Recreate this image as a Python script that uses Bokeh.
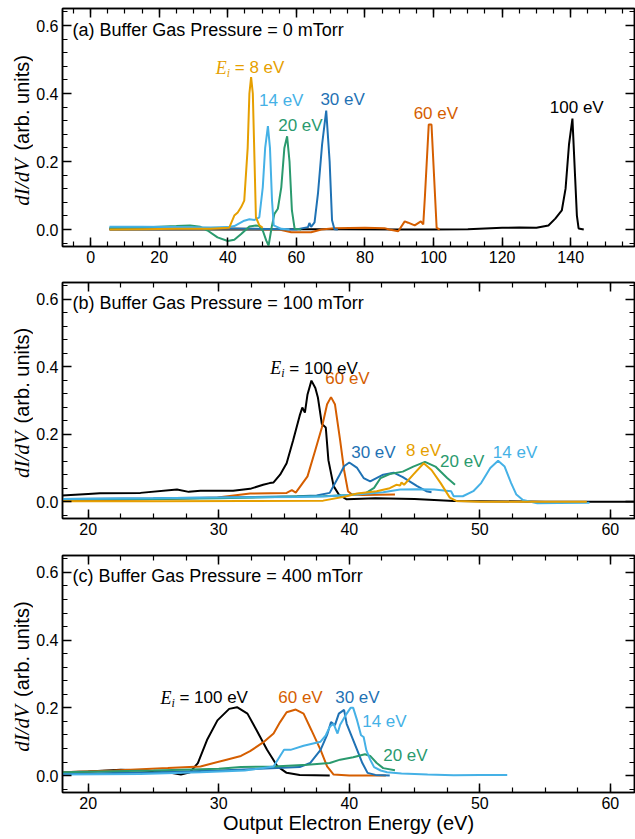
import math
from bokeh.plotting import figure
from bokeh.models import (Range1d, LinearAxis, FixedTicker, Label, ColumnDataSource,
                          PrintfTickFormatter, CustomJSTickFormatter)
from bokeh.layouts import column, row
from bokeh.embed import file_html
from bokeh.resources import INLINE
from bokeh.core.properties import value

# ---------------- colours ----------------
C100 = "#000000"
C60 = "#D55E00"
C30 = "#1F72B4"
C20 = "#2A9A6E"
C14 = "#45B1E6"
C8 = "#E69F00"

# ---------------- panel (a): 0 mTorr ----------------
a_e100_x = [5.5, 30, 50, 60, 70, 90, 100, 110, 115, 120, 125, 130, 133.5, 135.5, 137.4, 138.5, 139.5, 140.5, 141.3, 141.8, 142.3, 143.8]
a_e100_y = [0.0, 0.0, 0.0, 0.001, 0.001, 0.0, 0.0, 0.001, 0.003, 0.005, 0.006, 0.005, 0.012, 0.032, 0.056, 0.12, 0.25, 0.326, 0.15, 0.041, 0.003, 0.0]
a_e60_x = [5.5, 20, 40, 55, 58.5, 64.3, 67.3, 71, 80, 85.7, 87.1, 89.7, 91.6, 92.6, 94.5, 96.3, 97.0, 97.5, 98.6, 99.4, 100.9, 101.8]
a_e60_y = [0.002, 0.002, 0.003, 0.0, -0.008, -0.008, 0.0, 0.004, 0.005, 0.004, 0.0, -0.005, 0.024, 0.02, 0.012, 0.024, 0.015, 0.1, 0.309, 0.309, 0.005, 0.0]
a_e30_x = [5.5, 20, 40, 55, 60, 63.4, 63.8, 64.3, 65.3, 66.3, 67.5, 68.7, 69.7, 70.4, 71.1, 72.1]
a_e30_y = [0.003, 0.003, 0.003, 0.001, 0.0, 0.007, 0.019, 0.008, 0.021, 0.106, 0.25, 0.35, 0.2, 0.027, 0.001, 0.0]
a_e20_x = [5.5, 15, 25, 29, 32, 34.1, 37, 40, 41.9, 43.9, 46.3, 48.2, 49.2, 50.2, 51.2, 51.9, 52.8, 53.6, 54.6, 55.6, 56.5, 57.3, 58, 58.7, 59.5, 61.4]
a_e20_y = [0.005, 0.006, 0.01, 0.012, 0.008, -0.003, -0.023, -0.034, -0.03, -0.013, 0.009, 0.012, 0.01, -0.003, -0.032, -0.047, 0.007, 0.046, 0.061, 0.124, 0.24, 0.274, 0.2, 0.056, 0.002, 0.0]
a_e14_x = [5.5, 15, 25, 35, 40, 41.9, 44.8, 46.3, 47.8, 49.2, 50.2, 50.9, 51.7, 52.3, 52.9, 53.4, 55.6, 58]
a_e14_y = [0.008, 0.008, 0.007, 0.006, 0.007, 0.01, 0.026, 0.03, 0.028, 0.036, 0.124, 0.24, 0.304, 0.24, 0.085, 0.012, 0.002, 0.0]
a_e8_x = [5.5, 15, 25, 35, 40.4, 41.9, 42.9, 43.9, 44.8, 45.8, 46.3, 46.8, 47.3, 47.8, 48.2, 49.2, 50.2]
a_e8_y = [0.0, 0.001, 0.002, 0.002, 0.005, 0.041, 0.05, 0.066, 0.085, 0.24, 0.40, 0.448, 0.40, 0.20, 0.036, 0.012, 0.005]

# ---------------- panel (b): 100 mTorr ----------------
b_e100_x = [18, 20, 20.9, 24, 26.8, 27.7, 28.6, 31.1, 32.4, 33.4, 33.9, 34.2, 34.7, 35.2, 35.7, 36.2, 36.4, 36.6, 36.8, 37.1, 37.4, 37.6, 37.9, 38.2, 38.4, 38.8, 39.2, 39.8, 42, 45, 48, 55, 62]
b_e100_y = [0.018, 0.023, 0.025, 0.026, 0.036, 0.029, 0.032, 0.032, 0.038, 0.05, 0.055, 0.057, 0.08, 0.114, 0.182, 0.255, 0.279, 0.264, 0.318, 0.359, 0.337, 0.308, 0.23, 0.22, 0.123, 0.046, 0.021, 0.007, 0.01, 0.008, 0.002, 0.0, 0.0]
b_e60_x = [18, 22, 26, 29.9, 32.4, 35.2, 35.6, 35.9, 36.8, 37.4, 37.9, 38.3, 38.6, 38.9, 39.3, 39.6, 39.9, 40.2, 41, 43.5]
b_e60_y = [0.002, 0.005, 0.008, 0.012, 0.024, 0.026, 0.034, 0.027, 0.075, 0.153, 0.22, 0.289, 0.31, 0.289, 0.182, 0.094, 0.031, 0.021, 0.02, 0.021]
b_e30_x = [18, 25, 30, 36, 37.5, 38.5, 39.2, 39.6, 40.0, 40.6, 41.1, 41.6, 42.6, 43.4, 44.1, 45.2, 45.9, 46.3]
b_e30_y = [0.008, 0.01, 0.012, 0.016, 0.018, 0.026, 0.075, 0.105, 0.116, 0.1, 0.07, 0.06, 0.08, 0.086, 0.073, 0.046, 0.031, 0.028]
b_e20_x = [18, 25, 30, 36, 38, 40, 41.3, 41.9, 42.4, 43.1, 44.1, 44.9, 45.8, 46.6, 47.5, 48.1]
b_e20_y = [0.006, 0.008, 0.01, 0.015, 0.016, 0.02, 0.026, 0.041, 0.07, 0.082, 0.089, 0.104, 0.118, 0.104, 0.07, 0.05]
b_e14_x = [18, 25, 30, 36, 38.3, 40.1, 42.6, 43.9, 45.2, 46.5, 47.8, 48.0, 48.7, 49.5, 50.1, 50.8, 51.4, 51.9, 52.4, 52.8, 53.3, 54.4, 56, 58.4]
b_e14_y = [0.008, 0.01, 0.012, 0.014, 0.016, 0.02, 0.028, 0.036, 0.037, 0.036, 0.031, 0.016, 0.016, 0.031, 0.055, 0.1, 0.121, 0.104, 0.055, 0.021, 0.005, -0.005, -0.004, -0.003]
b_e8_x = [18, 25, 32, 38, 39.8, 40.6, 42.1, 43.1, 43.6, 43.9, 44.0, 44.2, 44.9, 45.7, 46.3, 47.0, 47.7, 48.2, 50, 54, 58.2]
b_e8_y = [0.001, 0.001, 0.002, 0.003, 0.016, 0.024, 0.031, 0.04, 0.05, 0.048, 0.057, 0.05, 0.08, 0.114, 0.094, 0.055, 0.012, 0.002, 0.0, 0.0, 0.0]

# ---------------- panel (c): 400 mTorr ----------------
c_e100_x = [18, 20, 22.5, 24, 26.1, 27.1, 27.8, 28.4, 29.1, 29.9, 30.8, 31.4, 32.2, 32.9, 33.7, 34.5, 35.2, 36.2, 38.5]
c_e100_y = [0.01, 0.012, 0.017, 0.016, 0.01, 0.003, 0.01, 0.037, 0.105, 0.163, 0.197, 0.202, 0.183, 0.134, 0.076, 0.027, 0.008, 0.002, 0.0]
c_e60_x = [18, 22, 26.1, 28.6, 30.6, 31.7, 32.4, 33.4, 34.2, 34.7, 35.2, 35.9, 36.5, 37.1, 37.8, 38.3, 38.8, 40, 42.8]
c_e60_y = [0.01, 0.015, 0.022, 0.027, 0.047, 0.058, 0.072, 0.098, 0.124, 0.158, 0.187, 0.195, 0.183, 0.134, 0.076, 0.027, 0.003, 0.0, 0.0]
c_e30_x = [18, 25, 30, 36.2, 37.0, 37.8, 38.3, 38.6, 38.9, 39.2, 39.6, 39.8, 40.2, 40.6, 41.0, 41.4, 42, 43.1]
c_e30_y = [0.005, 0.01, 0.015, 0.025, 0.037, 0.076, 0.12, 0.158, 0.149, 0.183, 0.194, 0.153, 0.114, 0.076, 0.037, 0.008, 0.002, 0.0]
c_e20_x = [18, 25, 30, 31.7, 34.2, 36.8, 38.5, 39.3, 40.3, 41.2, 41.6, 42.1, 42.6, 43.5]
c_e20_y = [0.01, 0.015, 0.02, 0.025, 0.027, 0.032, 0.037, 0.047, 0.054, 0.063, 0.058, 0.037, 0.022, 0.016]
c_e14_x = [18, 24, 28.6, 32, 34.2, 35.0, 35.5, 36.5, 37.8, 38.2, 38.5, 38.8, 39.1, 39.3, 39.7, 40.1, 40.3, 40.6, 40.9, 41.1, 41.3, 41.6, 41.9, 42.4, 42.9, 44, 46, 48, 50, 52.1]
c_e14_y = [0.003, 0.005, 0.01, 0.015, 0.027, 0.076, 0.076, 0.088, 0.1, 0.119, 0.144, 0.153, 0.124, 0.15, 0.177, 0.2, 0.2, 0.163, 0.119, 0.114, 0.076, 0.047, 0.025, 0.015, 0.01, 0.006, 0.003, 0.001, 0.002, 0.002]

# ---------------- ticks ----------------
a_x_major = [0, 20, 40, 60, 80, 100, 120, 140]
a_x_minor = [v * 5 for v in range(-1, 32)]
bc_x_major = [20, 30, 40, 50, 60]
bc_x_minor = [17.5 + 2.5 * i for i in range(19)]
y_major = [0.0, 0.2, 0.4, 0.6]
y_minor = [round(-0.04 + 0.04 * i, 2) for i in range(18)]

# ---------------- annotations ----------------
titles = ["(a) Buffer Gas Pressure = 0 mTorr", "(b) Buffer Gas Pressure = 100 mTorr", "(c) Buffer Gas Pressure = 400 mTorr"]
x_title = "Output Electron Energy (eV)"
y_title_math = "dI/dV"
y_title_text = "(arb. units)"

a_lab_text = ["14 eV", "20 eV", "30 eV", "60 eV", "100 eV"]
a_lab_x = [49.1, 54.7, 67.0, 94.2, 133.9]
a_lab_y = [0.379, 0.306, 0.382, 0.341, 0.359]
a_lab_c = [C14, C20, C30, C60, C100]
a_ei = (36.5, 0.476, "= 8 eV", C8)

b_lab_text = ["60 eV", "30 eV", "8 eV", "20 eV", "14 eV"]
b_lab_x = [38.16, 40.15, 44.35, 46.95, 51.0]
b_lab_y = [0.366, 0.147, 0.153, 0.118, 0.147]
b_lab_c = [C60, C30, C8, C20, C14]
b_ei = (33.95, 0.395, "= 100 eV", C100)

c_lab_text = ["60 eV", "30 eV", "14 eV", "20 eV"]
c_lab_x = [34.56, 38.92, 40.99, 42.6]
c_lab_y = [0.23, 0.23, 0.16, 0.058]
c_lab_c = [C60, C30, C14, C20]
c_ei = (25.53, 0.23, "= 100 eV", C100)

SANS = "Liberation Sans"
SERIF = "Liberation Serif"
STRIP_W = 33
MAIN_W = 635 - STRIP_W
Y_RANGE = (-0.05, 0.65)


def make_fig(height, xr, xmaj, xmin, top, bottom):
    p = figure(width=MAIN_W, height=height, x_range=Range1d(*xr), y_range=Range1d(*Y_RANGE),
               output_backend="svg", toolbar_location=None,
               min_border_left=62 - STRIP_W, min_border_right=1, min_border_top=top, min_border_bottom=bottom)
    p.title = None
    p.grid.visible = False
    p.outline_line_color = "black"
    p.outline_line_width = 1.5
    p.outline_line_alpha = 1.0
    p.xaxis.ticker = FixedTicker(ticks=xmaj, minor_ticks=xmin)
    p.yaxis.ticker = FixedTicker(ticks=y_major, minor_ticks=y_minor)
    p.yaxis.formatter = PrintfTickFormatter(format="%.1f")
    blank = CustomJSTickFormatter(code="return ''")
    p.add_layout(LinearAxis(ticker=FixedTicker(ticks=xmaj, minor_ticks=xmin), formatter=blank), "above")
    p.add_layout(LinearAxis(ticker=FixedTicker(ticks=y_major, minor_ticks=y_minor), formatter=blank), "right")
    for ax in p.axis:
        ax.major_tick_in = 9
        ax.major_tick_out = 0
        ax.minor_tick_in = 5
        ax.minor_tick_out = 0
        ax.axis_line_width = 1.5
        ax.major_tick_line_width = 1.5
        ax.minor_tick_line_width = 1.2
        ax.major_label_text_font = SANS
        ax.major_label_text_font_size = "16px"
        ax.major_label_text_color = "black"
        ax.major_label_standoff = 4
    for ax in list(p.above) + list(p.right):
        ax.major_label_text_font_size = "1px"
        ax.major_label_standoff = 0
    return p


def make_strip(height, top, bottom):
    s = figure(width=STRIP_W, height=height, x_range=Range1d(0, STRIP_W), y_range=Range1d(*Y_RANGE),
               output_backend="svg", toolbar_location=None, min_border_left=0, min_border_right=0,
               min_border_top=top, min_border_bottom=bottom)
    s.title = None
    s.axis.visible = False
    s.grid.visible = False
    s.outline_line_color = None
    s.text(x=[21], y=[0.07], text=[y_title_math], angle=math.pi / 2, text_font=value(SERIF),
           text_font_style="italic", text_font_size=value("21px"), text_baseline="middle",
           text_align="left", text_color="black")
    s.text(x=[21], y=[0.232], text=[y_title_text], angle=math.pi / 2, text_font=value(SANS),
           text_font_size=value("20px"), text_baseline="middle", text_align="left", text_color="black")
    return s


def add_title(p, txt):
    p.add_layout(Label(x=10, y=0.588, x_units="screen", y_units="data", text=txt,
                       text_font=SANS, text_font_size="18px", text_baseline="middle",
                       text_align="left", text_color="black"))


def add_labels(p, xs, ys, txts, cols, ei):
    src = ColumnDataSource(dict(x=xs, y=ys, t=txts, c=cols))
    p.text(x="x", y="y", text="t", text_color="c", source=src, text_font=value(SANS),
           text_font_size=value("17px"), text_baseline="middle", text_align="left")
    ex, ey, rest, col = ei
    p.add_layout(Label(x=ex, y=ey, text="E", text_font=SERIF, text_font_style="italic",
                       text_font_size="18px", text_color=col, text_baseline="middle", text_align="left"))
    p.add_layout(Label(x=ex, y=ey, x_offset=11, y_offset=-5, text="i", text_font=SERIF,
                       text_font_style="italic", text_font_size="12px", text_color=col,
                       text_baseline="middle", text_align="left"))
    p.add_layout(Label(x=ex, y=ey, x_offset=19, text=rest, text_font=SANS,
                       text_font_size="17px", text_color=col, text_baseline="middle", text_align="left"))


LW = 2.0
HA, TA, BA = 280, 8, 34
HB, TB, BB = 274, 2, 36
HC, TC, BC = 285, 1, 47

# panel a
pa = make_fig(HA, (-8.2, 158.6), a_x_major, a_x_minor, TA, BA)
for xs, ys, c in [(a_e100_x, a_e100_y, C100), (a_e60_x, a_e60_y, C60), (a_e30_x, a_e30_y, C30),
                  (a_e20_x, a_e20_y, C20), (a_e14_x, a_e14_y, C14), (a_e8_x, a_e8_y, C8)]:
    pa.line(xs, ys, line_color=c, line_width=LW)
add_title(pa, titles[0])
add_labels(pa, a_lab_x, a_lab_y, a_lab_text, a_lab_c, a_ei)

# panel b
pb = make_fig(HB, (18.03, 61.85), bc_x_major, bc_x_minor, TB, BB)
for xs, ys, c in [(b_e100_x, b_e100_y, C100), (b_e60_x, b_e60_y, C60), (b_e30_x, b_e30_y, C30),
                  (b_e20_x, b_e20_y, C20), (b_e14_x, b_e14_y, C14), (b_e8_x, b_e8_y, C8)]:
    pb.line(xs, ys, line_color=c, line_width=LW)
add_title(pb, titles[1])
add_labels(pb, b_lab_x, b_lab_y, b_lab_text, b_lab_c, b_ei)

# panel c
pc = make_fig(HC, (18.03, 61.85), bc_x_major, bc_x_minor, TC, BC)
for xs, ys, c in [(c_e100_x, c_e100_y, C100), (c_e60_x, c_e60_y, C60), (c_e30_x, c_e30_y, C30),
                  (c_e20_x, c_e20_y, C20), (c_e14_x, c_e14_y, C14)]:
    pc.line(xs, ys, line_color=c, line_width=LW)
add_title(pc, titles[2])
add_labels(pc, c_lab_x, c_lab_y, c_lab_text, c_lab_c, c_ei)
bax = pc.below[0]
bax.axis_label = x_title
bax.axis_label_text_font = SANS
bax.axis_label_text_font_size = "20px"
bax.axis_label_text_font_style = "normal"
bax.axis_label_text_color = "black"
bax.axis_label_standoff = 0

sa = make_strip(HA, TA, BA)
sb = make_strip(HB, TB, BB)
sc = make_strip(HC, TC, BC)

layout = column(row(sa, pa, spacing=0), row(sb, pb, spacing=0), row(sc, pc, spacing=0), spacing=0)
open("out.html", "w").write(file_html(layout, INLINE))
